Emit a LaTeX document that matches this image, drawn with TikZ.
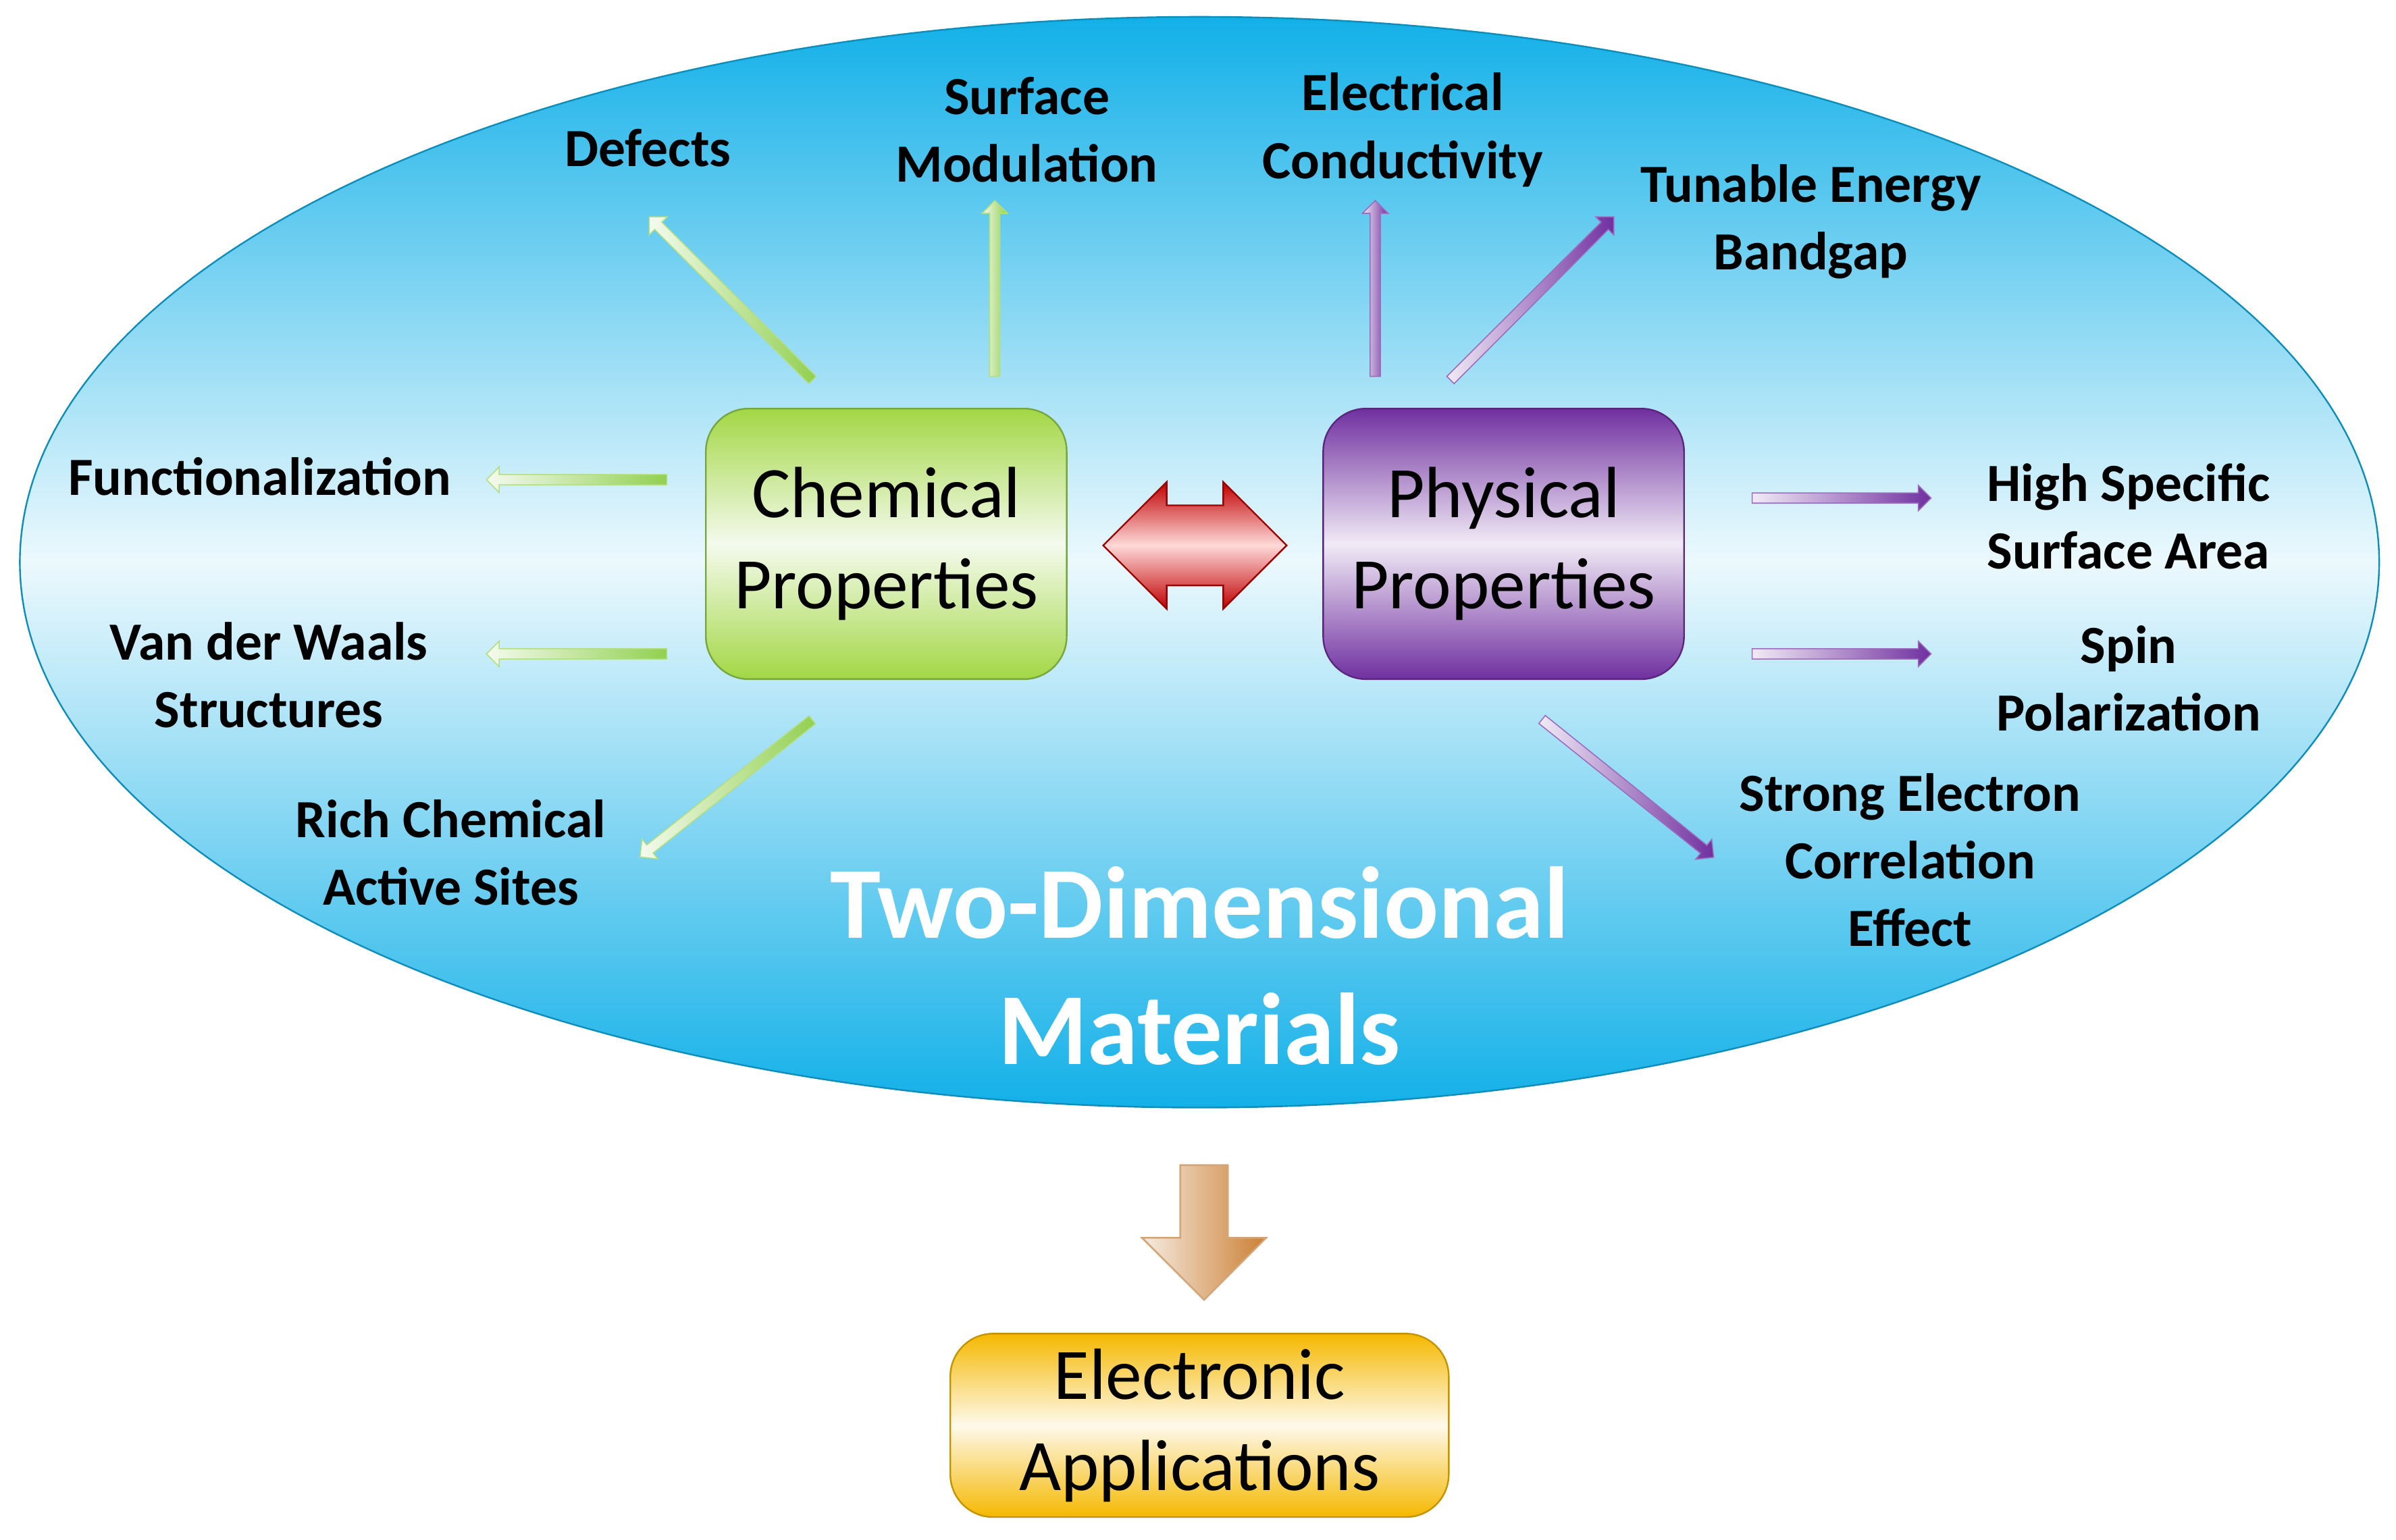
\documentclass[tikz,border=0pt]{standalone}
\usepackage{fontspec}
\setmainfont{Carlito}
\usetikzlibrary{shapes.arrows,shapes.geometric}
\definecolor{sky}{HTML}{12B0E8}
\definecolor{grn}{HTML}{92D050}
\definecolor{prp}{HTML}{7030A0}
\definecolor{org}{HTML}{F5B800}
\begin{document}
\begin{tikzpicture}[x={(0.01cm,0)},y={(0,-0.01cm)},
 lbl/.style={font=\fontsize{10}{12.6}\selectfont\bfseries,align=center,text=black},
 box/.style={rounded corners=0.28cm,draw=#1!80!black,line width=0.3pt,font=\fontsize{13.5}{17}\selectfont,align=center,inner sep=0},
 arr/.style={sloped,allow upside down,single arrow,single arrow head extend=0.055cm,minimum width=0.17cm,inner sep=0.3mm,line width=0.2pt,draw=#1!70!white,left color=white,right color=#1,minimum height=#1cm},
 ga/.style 2 args={sloped,allow upside down,single arrow,single arrow head extend=0.05cm,inner sep=0.3mm,line width=0.2pt,draw=#1!70!white,left color=white!90!#1,right color=#1,minimum height=#2}]
\useasboundingbox (0,0) rectangle (1568,1008);
% ellipse
\path[top color=sky,bottom color=sky,middle color=white!92!sky,shading angle=0] (785,368) ellipse [x radius=772, y radius=357];
\draw[sky!80!black,line width=0.3pt] (785,368) ellipse [x radius=772, y radius=357];
% boxes
\node[box=grn,minimum width=2.36cm,minimum height=1.77cm,top color=grn!85!yellow,bottom color=grn!85!yellow,middle color=white!90!grn] (chem) at (580,356) {Chemical\\Properties};
\node[box=prp,minimum width=2.36cm,minimum height=1.77cm,top color=prp,bottom color=prp,middle color=white!90!prp] (phys) at (984,356) {Physical\\Properties};
\node[box=org,minimum width=3.26cm,minimum height=1.2cm,top color=org,bottom color=org,middle color=white!92!org] (app) at (785,933) {Electronic\\Applications};
% central double arrow
\node[double arrow,double arrow head extend=0.12cm,minimum width=0.83cm,minimum height=1.2cm,inner sep=0.2cm,shading angle=0,top color=red!75!black,bottom color=red!75!black,middle color=white!85!red,draw=red!60!black,line width=0.3pt] (dbl) at (782,357) {};
% down arrow
\node[single arrow,rotate=-90,single arrow head extend=0.25cm,minimum width=0.8cm,minimum height=0.88cm,inner sep=0.15cm,left color=white!70!brown,right color=white!70!brown,middle color=white,shading angle=0,draw=brown!70!white,line width=0.3pt] (down) at (788,799) {};
\node[single arrow,rotate=-90,single arrow head extend=0.25cm,minimum width=0.8cm,minimum height=0.88cm,inner sep=0.15cm,top color=white!85!brown,bottom color=brown!80!orange,shading angle=90,draw=brown!70!white,line width=0.3pt] (down2) at (788,799) {};
% labels
\node[lbl] (def) at (424,97) {Defects};
\node[lbl] (sm) at (672,85) {Surface\\Modulation};
\node[lbl] (ec) at (918,85) {Electrical\\Conductivity};
\node[lbl] (teb) at (1185,145) {Tunable Energy\\Bandgap};
\node[lbl] (fun) at (170,312) {Functionalization};
\node[lbl] (vdw) at (176,442) {Van der Waals\\Structures};
\node[lbl] (rich) at (295,558) {Rich Chemical\\Active Sites};
\node[lbl] (hss) at (1393,338) {High Specific\\Surface Area};
\node[lbl] (spin) at (1393,444) {Spin\\Polarization};
\node[lbl] (sec) at (1250,563) {Strong Electron\\Correlation\\Effect};
\node[font=\fontsize{19}{23.5}\selectfont\bfseries,text=white,align=center] (title) at (785,632) {Two-Dimensional\\Materials};
% arrow endpoints
\coordinate (c1) at (533,250); \coordinate (d1) at (426,143);
\coordinate (c2) at (651,248); \coordinate (d2) at (651,133);
\coordinate (c3) at (438,314); \coordinate (d3) at (320,314);
\coordinate (c4) at (438,428); \coordinate (d4) at (320,428);
\coordinate (c5) at (533,470); \coordinate (d5) at (420,560);
\coordinate (p1) at (900,248); \coordinate (q1) at (900,133);
\coordinate (p2) at (948,250); \coordinate (q2) at (1055,143);
\coordinate (p3) at (1145,326); \coordinate (q3) at (1262,326);
\coordinate (p4) at (1145,428); \coordinate (q4) at (1262,428);
\coordinate (p5) at (1008,470); \coordinate (q5) at (1120,560);
\tikzset{gh/.style={minimum width=0.16cm},ph/.style={minimum width=0.16cm}}
\path (c1) -- (d1) node[midway,ga={grn}{1.51cm},gh] (a1) {};
\path (c2) -- (d2) node[midway,ga={grn}{1.15cm},gh] (a2) {};
\path (c3) -- (d3) node[midway,ga={grn}{1.18cm},gh] (a3) {};
\path (c4) -- (d4) node[midway,ga={grn}{1.18cm},gh] (a4) {};
\path (c5) -- (d5) node[midway,ga={grn}{1.44cm},gh] (a5) {};
\path (p1) -- (q1) node[midway,ga={prp}{1.15cm},ph] (b1) {};
\path (p2) -- (q2) node[midway,ga={prp}{1.51cm},ph] (b2) {};
\path (p3) -- (q3) node[midway,ga={prp}{1.17cm},ph] (b3) {};
\path (p4) -- (q4) node[midway,ga={prp}{1.17cm},ph] (b4) {};
\path (p5) -- (q5) node[midway,ga={prp}{1.44cm},ph] (b5) {};
\end{tikzpicture}
\end{document}
